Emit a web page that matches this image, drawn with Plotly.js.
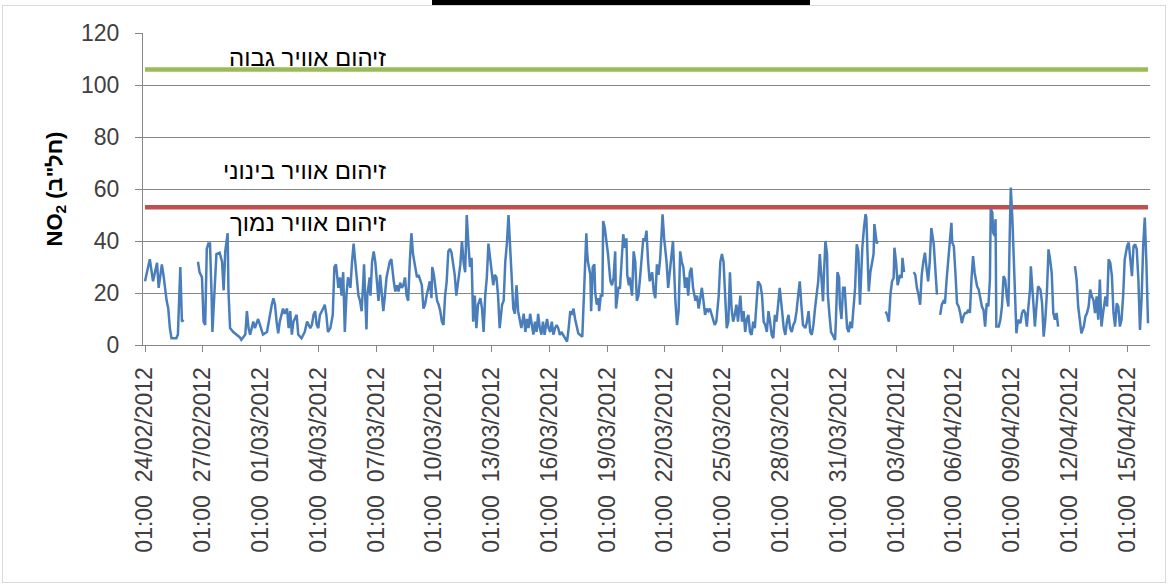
<!DOCTYPE html>
<html><head><meta charset="utf-8">
<script src="https://cdn.plot.ly/plotly-3.0.1.min.js"></script>
<style>
html,body{margin:0;padding:0;background:#fff;}
#chart{position:absolute;left:0;top:0;width:1172px;height:584px;}
#frame{position:absolute;left:2px;top:5px;width:1162px;height:576px;border:1px solid #d9d9d9;pointer-events:none;}
#bar{position:absolute;left:432px;top:0;width:378px;height:5px;background:#000;}
</style></head><body>
<div id="chart"></div>
<div id="frame"></div>
<div id="bar"></div>
<script>
// hour index since 24/02/2012 01:00 (hourly series, null = missing data)
const hourIndex = [
0,6,10,15,17,21,23,25,27,29,31,33,36,39,41,44,46,48,57,
66,68,71,73,75,77,79,81,83,84,89,93,96,98,100,103,104,106,110,114,118,120,125,127,129,131,135,137,141,143,147,152,156,158,160,162,164,166,168,172,174,177,179,181,183,185,189,191,195,199,202,206,208,210,212,214,216,218,222,224,226,228,231,234,236,238,241,243,
245,247,249,251,253,256,258,260,262,264,266,268,270,272,273,274,276,277,280,281,283,285,287,289,291,293,295,297,299,301,305,307,310,312,314,316,318,320,322,324,326,328,330,332,334,337,339,341,343,345,347,349,351,353,355,357,358,360,364,366,368,370,372,374,376,378,380,382,384,386,388,391,393,395,397,399,401,403,405,407,409,411,413,415,418,420,422,424,426,428,430,432,434,436,438,440,442,445,447,449,451,453,455,457,459,461,463,465,467,469,472,474,476,478,480,482,484,486,488,490,492,494,496,
498,501,503,505,507,509,511,513,515,517,519,521,523,526,528,530,532,534,536,538,540,542,545,547,550,551,552,555,556,558,560,561,563,565,566,568,570,571,573,575,577,580,582,584,586,587,589,590,592,594,596,598,600,601,603,604,607,609,611,613,615,617,619,621,623,625,627,629,632,634,636,638,640,642,644,645,647,649,650,652,654,656,658,661,663,665,667,669,671,673,675,677,679,681,683,686,688,690,692,694,696,698,700,702,704,706,708,710,712,715,717,719,721,723,725,727,729,731,733,735,737,739,742,
744,746,748,750,752,754,756,758,760,762,764,767,769,771,773,775,777,779,781,783,785,787,789,791,794,796,798,800,802,804,806,808,810,812,814,816,818,820,823,825,827,829,831,833,835,837,839,841,843,845,846,848,850,851,853,855,857,860,861,863,865,866,868,870,872,875,877,879,881,883,885,887,889,891,892,894,896,898,899,901,902,904,906,908,909,911,912,913,918,
923,925,927,929,931,933,934,936,938,939,941,943,944,946,952,958,960,962,964,966,968,970,972,974,976,978,980,983,985,987,989,991,993,995,
997,999,1001,1003,1005,1006,1008,1010,1012,1014,1016,1018,1020,1022,1024,1026,1028,1030,1032,1034,1037,1039,1041,1043,1045,1047,1049,1051,1053,1054,1056,1057,1059,1060,1061,1064,1066,1068,1070,1072,1074,1076,1078,1079,1081,1082,1084,1085,1086,1088,1091,1093,1095,1097,1099,1101,1103,1104,1106,1108,1109,1111,1113,1116,1118,1120,1122,1124,1126,1128,1130,1132,1134,1136,1138,1148,
1159,1161,1163,1165,1167,1170,1172,1174,1176,1178,1180,1182,1184,1186,1188,1190,1192,1194,1197,1199,1201,1203,1205,1207,1209,1211,1213,1215,1217,1219,1221,1224,1226,1228,1230,1232,1234,1236,1238,1240,1242,1244,1246,1248,1250
];
const no2 = [
24.5,33,24.5,31.6,22,31,27,21,17,14,6.5,2.6,2.6,2.6,4,30,9,9.7,null,
32,28,26,9,7.7,37,39,39,19,5,35,35.5,32,21,36,43,21,6.5,5,4,3,2,4,13,6.5,4,9,6.5,10,8,4,5,13,15.5,18,15.5,9,4.5,9,14,12,14,6.5,13,4,9,11.6,4,2.6,5,9,6.5,7.7,11.6,13,7.7,6.5,11.6,14,15.5,11.6,5,6.5,11.6,30,31,22,26,
19,28,5,19,26,22,32,39,32,24.5,19,17,13,24.5,31,22,6,19,26,19,32,36,32,24.5,17,27,19,13,19,26,32,33,24.5,20.6,23,20.6,24,22,23,26,19,17,32,43,35,30,26,27,24.5,23,14,15.5,19,22,24.5,18,30,27,17,15.5,13,9,7.7,19,24.5,36,37,35.5,32,27,19,26,31,40,32,28,50,39,30,33.5,9,19,6.5,15.5,18,14,5,19,26,39,33.5,30,23,27,26,19,6.5,15.5,17,32,39,50,39,24.5,14,12,23,13,9,6.5,12,5,10,6.5,12,8,4,9,5,12,6.5,4,9,
3.9,10,6.5,5,9,4,6.5,7.7,6.5,3.9,5,4,2.6,1.3,6.5,13,11.6,14,10,6.5,4.5,3.9,3.2,19,43,36,32,27,13,30,31,20.6,15.5,18,13,19,19,47.7,45,40,35,24.5,23,26,36,14,19,22,22,32,42.6,37.4,41,27,23,26,19,36,32,17,19,26,35,41,40,44,32,24.5,28,20.6,18,31,27,33,44,50.3,41,36,32,22,28,35,40,17,7.7,13,36,32,29.7,22,26,19,28,29.7,22,17,19,14,18,22,17,11.6,14,13,14,11.6,10,7.7,9,19,32,35,32,19,6.5,9,28,14,9,11.6,15.5,9,19,
9,13,5,10,11.6,5,3.9,9,6.5,16.8,24.5,23,19,9,7.7,5,13,9,3.9,2.6,11.6,9,16.8,22,13,6.5,3.9,9,11.6,6.5,5,7.7,9,13,19,24.5,15.5,7.7,6.5,9,13,5,3.9,7.7,14,19,24.5,35,26,16.8,26,40,35,19.4,11.6,5,3.9,1.9,9,28,26,15.5,10,22,22,6.5,5,9,6.5,15.5,22,38.7,36,15.5,26,37.4,45,50.3,49,32,20.6,28,31,35,46.5,40,39,40,null,
12.9,11.6,9,19.4,24.5,25.8,37.4,32,23,24.5,27,25.8,33.5,28,null,28,27,22,19.4,15.5,27,32,35.5,29.7,24.5,32,45,38.7,27,19.4,null,11.6,15.5,16.8,
16,25,31.6,38,47,39.4,38,27.7,16,14.8,12.3,8.4,11,12.3,12.3,13.5,12.3,25.2,34.2,27.7,22.6,21.3,17.4,14.8,13.5,7.1,16,14.8,25.2,52.3,51,43.2,41.9,48.4,7.1,7.1,9.7,14.8,26.5,25.2,18.7,14.8,47,60.6,48.4,40.6,25.2,14.8,4.5,9.7,8.4,12.3,13.5,12.3,7.1,14.8,21.3,30.3,22.6,12.3,7.1,14.8,22.6,21.3,16,3.2,9.7,20,36.8,32.9,27.7,12.3,9.7,12.3,7.1,null,
30.3,25.2,14.8,9.7,4.5,7.1,11,12.3,14.8,21.3,18.7,17.4,12.3,18.7,9.7,25.2,7.1,12.3,18.7,14.8,33,31.6,26.5,12.3,7.1,16,14.8,7.1,9.7,18.7,32.9,38,39.4,32.9,26.5,38,38.7,36.8,25.2,5.8,17.4,38,49,31.6,8.4
];
const highPollution = 106;   // upper threshold line (green)
const lowPollution = 53;     // lower threshold line (red)
const tickLabels = [
"01:00  24/02/2012","01:00  27/02/2012","01:00  01/03/2012","01:00  04/03/2012",
"01:00  07/03/2012","01:00  10/03/2012","01:00  13/03/2012","01:00  16/03/2012",
"01:00  19/03/2012","01:00  22/03/2012","01:00  25/03/2012","01:00  28/03/2012",
"01:00  31/03/2012","01:00  03/04/2012","01:00  06/04/2012","01:00  09/04/2012",
"01:00  12/04/2012","01:00  15/04/2012"
];
const levelLabels = ["זיהום אוויר גבוה","זיהום אוויר בינוני","זיהום אוויר נמוך"];

const first = hourIndex[0], last = hourIndex[hourIndex.length-1];
const font = 'Liberation Sans, Arial, sans-serif';
const traces = [
  {x:[first,last], y:[highPollution,highPollution], mode:'lines', line:{color:'#9BBB59', width:4.5}, hoverinfo:'skip'},
  {x:[first,last], y:[lowPollution,lowPollution], mode:'lines', line:{color:'#C0504D', width:4.5}, hoverinfo:'skip'},
  {x:hourIndex, y:no2, mode:'lines', connectgaps:false, line:{color:'#4A7EBB', width:2.5}}
];
const annFont = {family:font, size:24, color:'#000'};
const layout = {
  width:1172, height:584,
  margin:{l:143, r:22, t:33, b:239},
  paper_bgcolor:'rgba(0,0,0,0)', plot_bgcolor:'rgba(0,0,0,0)',
  showlegend:false,
  font:{family:font, color:'#404040'},
  xaxis:{
    range:[-2.5,1252.5],
    tickvals: tickLabels.map((_,i)=>i*72),
    ticktext: tickLabels.map(s=>s.replace('  ','\u00A0\u00A0')),
    tickangle:-90, ticks:'outside', ticklen:6, tickcolor:'#868686', tickwidth:1,
    ticklabelstandoff:6,
    showline:true, linecolor:'#868686', linewidth:1, showgrid:false, zeroline:false,
    tickfont:{family:font, size:23, color:'#404040'}
  },
  yaxis:{
    range:[0,120], dtick:20, tick0:0,
    ticks:'outside', ticklen:7, tickcolor:'#868686', tickwidth:1,
    ticklabelstandoff:11,
    showline:true, linecolor:'#868686', linewidth:1,
    showgrid:true, gridcolor:'#868686', gridwidth:1, zeroline:false,
    tickfont:{family:font, size:23, color:'#404040'},
    title:{text:'<b>NO<sub>2</sub> (חל"ב)</b>', font:{family:font, size:22, color:'#000'}, standoff:12}
  },
  annotations:[
    {x:303, y:110.4, xref:'x', yref:'y', xanchor:'right', yanchor:'middle', text:levelLabels[0], showarrow:false, font:annFont},
    {x:303, y:67.3, xref:'x', yref:'y', xanchor:'right', yanchor:'middle', text:levelLabels[1], showarrow:false, font:annFont},
    {x:303, y:47.3, xref:'x', yref:'y', xanchor:'right', yanchor:'middle', text:levelLabels[2], showarrow:false, font:annFont}
  ]
};
Plotly.newPlot('chart', traces, layout, {staticPlot:true, displayModeBar:false});
</script>
</body></html>
